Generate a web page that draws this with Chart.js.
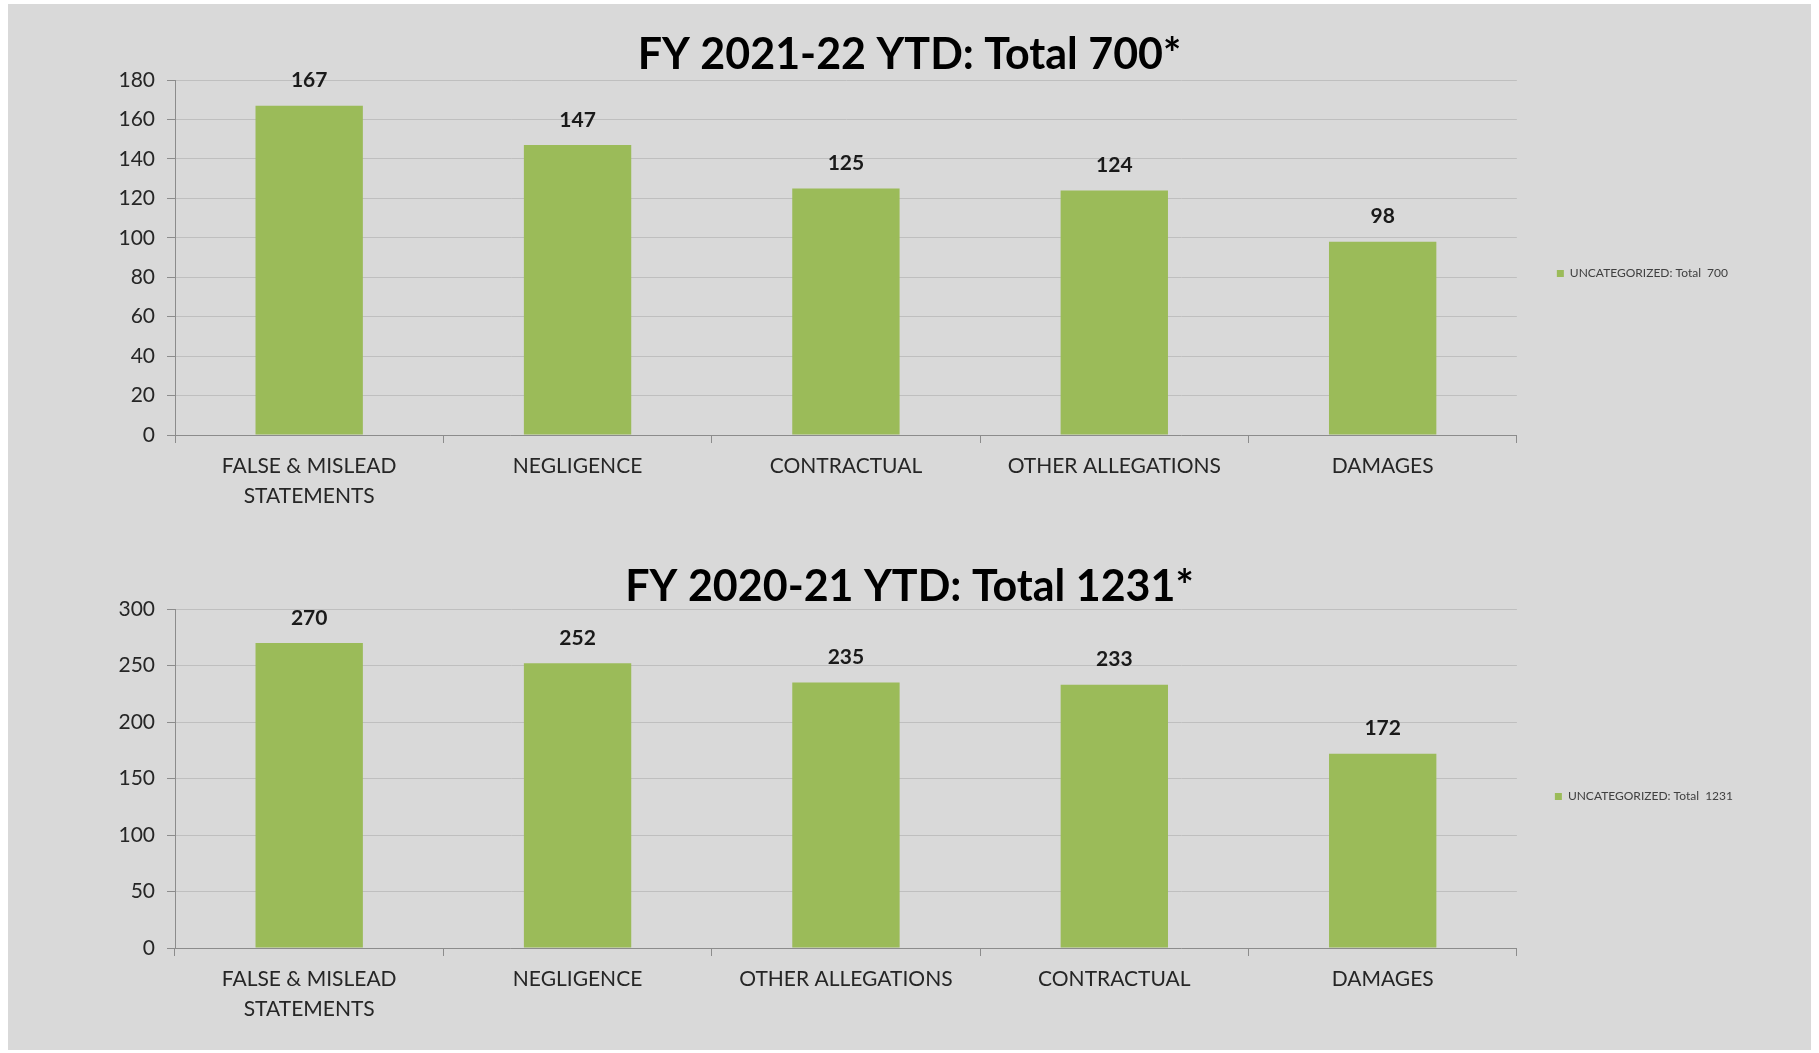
<!DOCTYPE html>
<html>
<head>
<meta charset="utf-8">
<script src="https://cdn.jsdelivr.net/npm/chart.js@4"></script>
<style>
  body { margin: 0; background: #ffffff; }
  #panel { position: absolute; left: 8px; top: 4px; width: 1803px; height: 1046px; background: #d9d9d9; }
  .box { position: absolute; left: 0; width: 1803px; height: 523px; }
</style>
</head>
<body>
<div id="panel">
  <div class="box" style="top:0"><canvas id="grafico1"></canvas></div>
  <div class="box" style="top:523px"><canvas id="grafico2"></canvas></div>
</div>
<script>
// dados
const labels1 = [['FALSE & MISLEAD', 'STATEMENTS'], 'NEGLIGENCE', 'CONTRACTUAL', 'OTHER ALLEGATIONS', 'DAMAGES']
const valores1 = [167, 147, 125, 124, 98]
const labels2 = [['FALSE & MISLEAD', 'STATEMENTS'], 'NEGLIGENCE', 'OTHER ALLEGATIONS', 'CONTRACTUAL', 'DAMAGES']
const valores2 = [270, 252, 235, 233, 172]
const ticks1 = [0, 20, 40, 60, 80, 100, 120, 140, 160, 180]
const ticks2 = [0, 50, 100, 150, 200, 250, 300]

const fonte = 'Lato, "Open Sans", sans-serif'
const verde = '#9bbb59'

// escreve o valor em cima de cada barra
const rotulos = {
  id: 'rotulos',
  afterDatasetsDraw(chart) {
    const c = chart.ctx
    c.save()
    c.font = 'bold 21px ' + fonte
    c.fillStyle = '#1a1a1a'
    c.textAlign = 'center'
    c.textBaseline = 'middle'
    chart.getDatasetMeta(0).data.forEach((bar, i) => {
      c.fillText(chart.data.datasets[0].data[i], bar.x, bar.y - 25)
    })
    c.restore()
  }
}

const criarGrafico = (id, labels, valores, ticks, titulo, legenda, tituloPad, alturaX, lado, legPad) => {
  return new Chart(document.getElementById(id), {
    type: 'bar',
    data: {
      labels: labels,
      datasets: [{
        label: legenda,
        data: valores,
        backgroundColor: verde,
        borderWidth: 0,
        barPercentage: 0.4,
        categoryPercentage: 1
      }]
    },
    plugins: [rotulos],
    options: {
      responsive: true,
      maintainAspectRatio: false,
      animation: false,
      // mesmo padding dos dois lados pro titulo ficar no meio
      layout: { padding: { left: lado, right: lado, top: 0, bottom: 0 } },
      plugins: {
        title: {
          display: true,
          text: titulo,
          color: '#000000',
          font: { family: fonte, size: 43, weight: 'bold', lineHeight: 1 },
          padding: tituloPad
        },
        legend: {
          position: 'right',
          align: 'center',
          title: { display: true, text: '', font: { size: 10, lineHeight: 1 }, padding: { top: 0, bottom: 6 } },
          labels: {
            boxWidth: 7,
            boxHeight: 7,
            padding: legPad,
            color: '#404040',
            font: { family: fonte, size: 12 }
          }
        },
        tooltip: { enabled: false }
      },
      scales: {
        x: {
          afterFit: (s) => { s.height = alturaX },
          grid: { offset: true, drawOnChartArea: false, drawTicks: true, tickLength: 8, tickColor: '#8c8c8c' },
          border: { color: '#8c8c8c' },
          ticks: { color: '#262626', padding: 9, maxRotation: 0, font: { family: fonte, size: 21, lineHeight: 1.4 } }
        },
        y: {
          min: ticks[0],
          max: ticks[ticks.length - 1],
          afterFit: (s) => { s.width = 167 - lado },
          grid: { color: '#bfbfbf', tickLength: 8, tickColor: '#8c8c8c' },
          border: { color: '#8c8c8c' },
          ticks: { stepSize: ticks[1] - ticks[0], color: '#262626', padding: 12, font: { family: fonte, size: 21 } }
        }
      }
    }
  })
}

criarGrafico('grafico1', labels1, valores1, ticks1, 'FY 2021-22 YTD: Total 700*', 'UNCATEGORIZED: Total  700', { top: 30, bottom: 3 }, 92, 73, 40)
criarGrafico('grafico2', labels2, valores2, ticks2, 'FY 2020-21 YTD: Total 1231*', 'UNCATEGORIZED: Total  1231', { top: 39, bottom: 0 }, 102, 68, 38)
</script>
</body>
</html>
